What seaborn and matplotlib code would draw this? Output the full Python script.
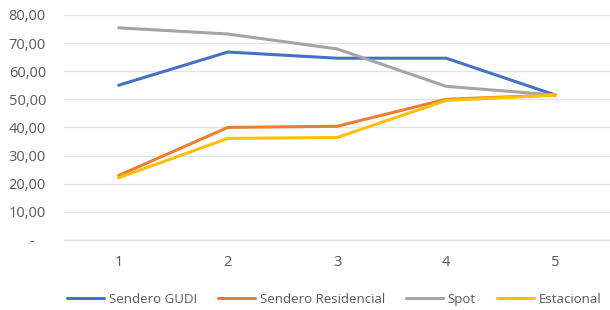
import pandas as pd
import seaborn as sns
import matplotlib.pyplot as plt
from matplotlib.ticker import FuncFormatter

## valores
periodos = [1, 2, 3, 4, 5]
sendero_gudi = [55.0, 66.8, 64.6, 64.6, 51.5]
sendero_residencial = [22.9, 40.0, 40.4, 50.0, 51.5]
spot = [75.4, 73.2, 67.9, 54.6, 51.5]
estacional = [22.1, 36.1, 36.4, 49.6, 51.5]

series = ["Sendero GUDI", "Sendero Residencial", "Spot", "Estacional"]
colores = ["#4472C4", "#ED7D31", "#A5A5A5", "#FFC000"]

df = pd.DataFrame({
    "periodo": periodos * 4,
    "valor": sendero_gudi + sendero_residencial + spot + estacional,
    "serie": [s for s in series for _ in periodos],
})

sns.set_style("white")
plt.rcParams['font.family'] = ['Open Sans', 'DejaVu Sans']

fig = plt.figure(figsize=(6.1, 3.1), dpi=100)
ax = fig.add_axes([0.105, 0.226, 0.895, 0.726])

sns.lineplot(data=df, x="periodo", y="valor", hue="serie", hue_order=series,
             palette=colores, linewidth=2.2, ax=ax, legend=True)

ax.set_xlim(0.5, 5.5)
ax.set_ylim(0, 80)
ax.set_yticks(range(0, 81, 10))
ax.set_xticks(periodos)
ax.yaxis.set_major_formatter(FuncFormatter(
    lambda v, p: "-   " if v == 0 else f"{v:.2f}".replace(".", ",")))
ax.grid(axis="y", color="#E3E3E3", linewidth=1)
ax.grid(axis="x", visible=False)
for s in ax.spines.values():
    s.set_visible(False)
ax.spines["bottom"].set_visible(True)
ax.spines["bottom"].set_color("#E3E3E3")
ax.spines["bottom"].set_linewidth(1)
ax.tick_params(axis="both", length=0, labelsize=10.5, labelcolor="#595959")
ax.tick_params(axis="y", pad=13)
ax.tick_params(axis="x", pad=11)
ax.set_xlabel("")
ax.set_ylabel("")

handles, labels = ax.get_legend_handles_labels()
ax.get_legend().remove()
fig.legend(handles, labels, loc="center", bbox_to_anchor=(0.548, 0.035), ncol=4,
           frameon=False, fontsize=9.5, labelcolor="#595959", handlelength=2.8,
           columnspacing=1.6, handletextpad=0.35, borderpad=0)

fig.savefig("out.png", dpi=100)
